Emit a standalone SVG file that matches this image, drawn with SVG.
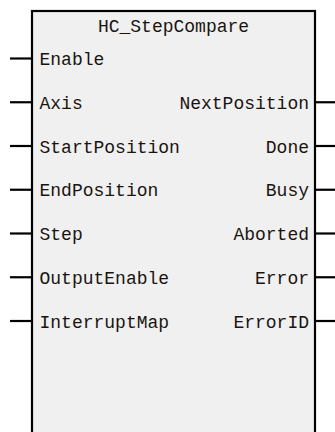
<svg xmlns="http://www.w3.org/2000/svg" width="335" height="432" viewBox="0 0 335 432">
<style>
.box{fill:#f0f0f0;stroke:#000;stroke-width:2.2}
.pin{stroke:#000;stroke-width:2.2;fill:none}
text{font-family:"Liberation Mono","DejaVu Sans Mono",monospace;font-size:18px;fill:#1a1410}
.r{text-anchor:end}
.c{text-anchor:middle}
</style>
<rect width="335" height="432" fill="#ffffff"/>
<g id="block">
<rect class="box" x="32" y="11" width="283" height="440"/>
<text class="c" x="173.5" y="32">HC_StepCompare</text>
</g>
<g id="connectors">
<line class="pin" x1="10" y1="58.5" x2="32" y2="58.5"/>
<line class="pin" x1="10" y1="102.25" x2="32" y2="102.25"/>
<line class="pin" x1="10" y1="146" x2="32" y2="146"/>
<line class="pin" x1="10" y1="189.75" x2="32" y2="189.75"/>
<line class="pin" x1="10" y1="233.5" x2="32" y2="233.5"/>
<line class="pin" x1="10" y1="277.25" x2="32" y2="277.25"/>
<line class="pin" x1="10" y1="321" x2="32" y2="321"/>
<line class="pin" x1="315" y1="102.25" x2="335" y2="102.25"/>
<line class="pin" x1="315" y1="146" x2="335" y2="146"/>
<line class="pin" x1="315" y1="189.75" x2="335" y2="189.75"/>
<line class="pin" x1="315" y1="233.5" x2="335" y2="233.5"/>
<line class="pin" x1="315" y1="277.25" x2="335" y2="277.25"/>
<line class="pin" x1="315" y1="321" x2="335" y2="321"/>
</g>
<g id="inputs">
<text x="39.5" y="65">Enable</text>
<text x="39.5" y="108.75">Axis</text>
<text x="39.5" y="152.5">StartPosition</text>
<text x="39.5" y="196.25">EndPosition</text>
<text x="39.5" y="240">Step</text>
<text x="39.5" y="283.75">OutputEnable</text>
<text x="39.5" y="327.5">InterruptMap</text>
</g>
<g id="outputs">
<text class="r" x="309" y="108.75">NextPosition</text>
<text class="r" x="309" y="152.5">Done</text>
<text class="r" x="309" y="196.25">Busy</text>
<text class="r" x="309" y="240">Aborted</text>
<text class="r" x="309" y="283.75">Error</text>
<text class="r" x="309" y="327.5">ErrorID</text>
</g>
</svg>
